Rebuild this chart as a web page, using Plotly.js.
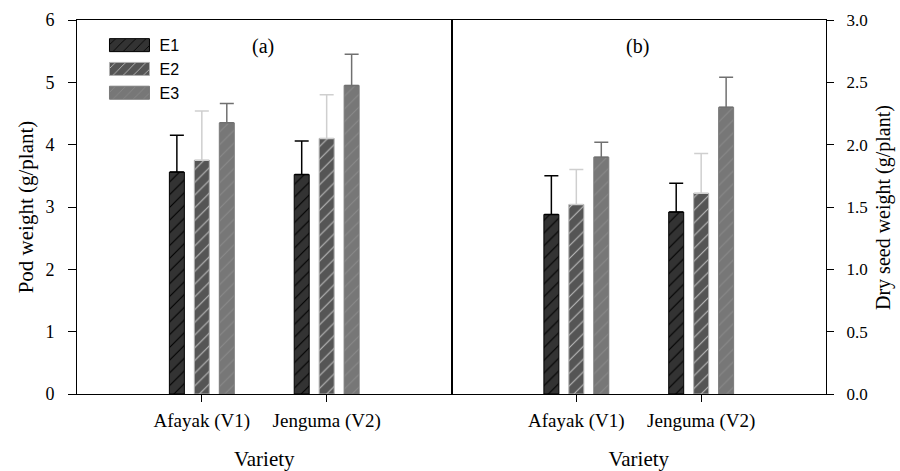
<!DOCTYPE html>
<html>
<head>
<meta charset="utf-8">
<script src="https://cdn.plot.ly/plotly-3.0.1.min.js"></script>
<style>html,body{margin:0;padding:0;background:#fff;}#chart{width:900px;height:471px;}</style>
</head>
<body>
<div id="chart"></div>
<script>
// ---- data ----
var categories = ['Afayak (V1)', 'Jenguma (V2)'];
var seriesNames = ['E1', 'E2', 'E3'];

var podE1 = [3.56, 3.52];
var podE1Err = [0.59, 0.54];
var podE2 = [3.75, 4.10];
var podE2Err = [0.79, 0.70];
var podE3 = [4.35, 4.95];
var podE3Err = [0.31, 0.50];

var seedE1 = [1.44, 1.46];
var seedE1Err = [0.31, 0.23];
var seedE2 = [1.52, 1.61];
var seedE2Err = [0.28, 0.32];
var seedE3 = [1.90, 2.30];
var seedE3Err = [0.12, 0.24];

var podYTicks = [0, 1, 2, 3, 4, 5, 6];
var seedYTicks = [0, 0.5, 1.0, 1.5, 2.0, 2.5, 3.0];
var seedYTickText = ['0.0', '0.5', '1.0', '1.5', '2.0', '2.5', '3.0'];

// ---- styles ----
var styles = [
  {bg: '#333333', fg: '#000000', line: '#000000', err: '#000000'},
  {bg: '#555555', fg: '#bdbdbd', line: '#b0b0b0', err: '#cfcfcf'},
  {bg: '#777777', fg: '#8a8a8a', line: '#7a7a7a', err: '#707070'}
];
var serif = 'Liberation Serif, Times New Roman, serif';
var sans = 'Liberation Sans, Arial, sans-serif';

function barTrace(name, vals, errs, st, xa, ya, showleg) {
  return {
    type: 'bar', name: name, x: categories, y: vals,
    xaxis: xa, yaxis: ya, showlegend: showleg,
    marker: {
      color: st.bg,
      line: {color: st.line, width: 1},
      pattern: {shape: '/', bgcolor: st.bg, fgcolor: st.fg, size: 9, solidity: 0.12}
    },
    error_y: {type: 'data', array: errs, arrayminus: errs.map(function(){return 0;}), symmetric: false,
              color: st.err, thickness: 1.5, width: 7}
  };
}

var podVals = [podE1, podE2, podE3], podErrs = [podE1Err, podE2Err, podE3Err];
var seedVals = [seedE1, seedE2, seedE3], seedErrs = [seedE1Err, seedE2Err, seedE3Err];
var data = [];
for (var i = 0; i < 3; i++) data.push(barTrace(seriesNames[i], podVals[i], podErrs[i], styles[i], 'x', 'y', true));
for (var j = 0; j < 3; j++) data.push(barTrace(seriesNames[j], seedVals[j], seedErrs[j], styles[j], 'x2', 'y2', false));

var xCommon = {
  type: 'category', range: [-1, 2], showline: true, linecolor: '#000', linewidth: 1, mirror: true,
  ticks: 'outside', ticklen: 7, tickcolor: '#000', tickwidth: 1, showgrid: false, zeroline: false,
  ticklabelstandoff: 2,
  tickfont: {family: serif, size: 19, color: '#000'}, automargin: false, fixedrange: true
};
var layout = {
  width: 900, height: 471,
  margin: {l: 77, r: 74, t: 20, b: 77},
  paper_bgcolor: '#fff', plot_bgcolor: '#fff',
  barmode: 'group', bargap: 0.4, bargroupgap: 0.4,
  font: {family: serif, color: '#000'},
  xaxis: Object.assign({}, xCommon, {domain: [0, 0.5], anchor: 'y',
    title: {text: 'Variety', font: {family: serif, size: 21, color: '#000'}, standoff: 28}}),
  xaxis2: Object.assign({}, xCommon, {domain: [0.5, 1], anchor: 'y2',
    title: {text: 'Variety', font: {family: serif, size: 21, color: '#000'}, standoff: 26}}),
  yaxis: {
    range: [0, 6], tickvals: podYTicks, anchor: 'x', showline: true, linecolor: '#000', linewidth: 1, mirror: true,
    ticks: 'outside', ticklen: 8, tickcolor: '#000', showgrid: false, zeroline: false, ticklabelstandoff: 10,
    tickfont: {family: serif, size: 18, color: '#000'}, automargin: false,
    title: {text: 'Pod weight (g/plant)', font: {family: serif, size: 21, color: '#000'}, standoff: 6}
  },
  yaxis2: {
    range: [0, 3], tickvals: seedYTicks, ticktext: seedYTickText, anchor: 'x2', side: 'right',
    showline: true, linecolor: '#000', linewidth: 1, mirror: true,
    ticks: 'outside', ticklen: 7, tickcolor: '#000', showgrid: false, zeroline: false, ticklabelstandoff: 9,
    tickfont: {family: serif, size: 17, color: '#000'}, automargin: false
  },
  legend: {
    x: 0.03, y: 0.978, xanchor: 'left', yanchor: 'top', bgcolor: 'rgba(0,0,0,0)',
    font: {family: sans, size: 16, color: '#000'}, itemwidth: 50, tracegroupgap: 0
  },
  annotations: [
    {text: '(a)', xref: 'paper', yref: 'paper', x: 0.248, y: 0.928, xanchor: 'center', yanchor: 'middle',
     showarrow: false, font: {family: serif, size: 20, color: '#000'}},
    {text: '(b)', xref: 'paper', yref: 'paper', x: 0.748, y: 0.928, xanchor: 'center', yanchor: 'middle',
     showarrow: false, font: {family: serif, size: 20, color: '#000'}},
    {text: 'Dry seed weight (g/plant)', xref: 'paper', yref: 'paper', x: 1.0761, y: 0.5,
     xanchor: 'center', yanchor: 'middle', textangle: -90, showarrow: false,
     font: {family: serif, size: 20, color: '#000'}}
  ]
};

Plotly.newPlot('chart', data, layout, {staticPlot: true, displayModeBar: false}).then(function(gd) {
  // widen legend swatches to match the reference's rectangular keys
  var paths = gd.querySelectorAll('.legend .legendpoints path');
  paths.forEach(function(p) { p.setAttribute('d', 'M20,6.5H-20V-6.5H20Z'); });
});
</script>
</body>
</html>
